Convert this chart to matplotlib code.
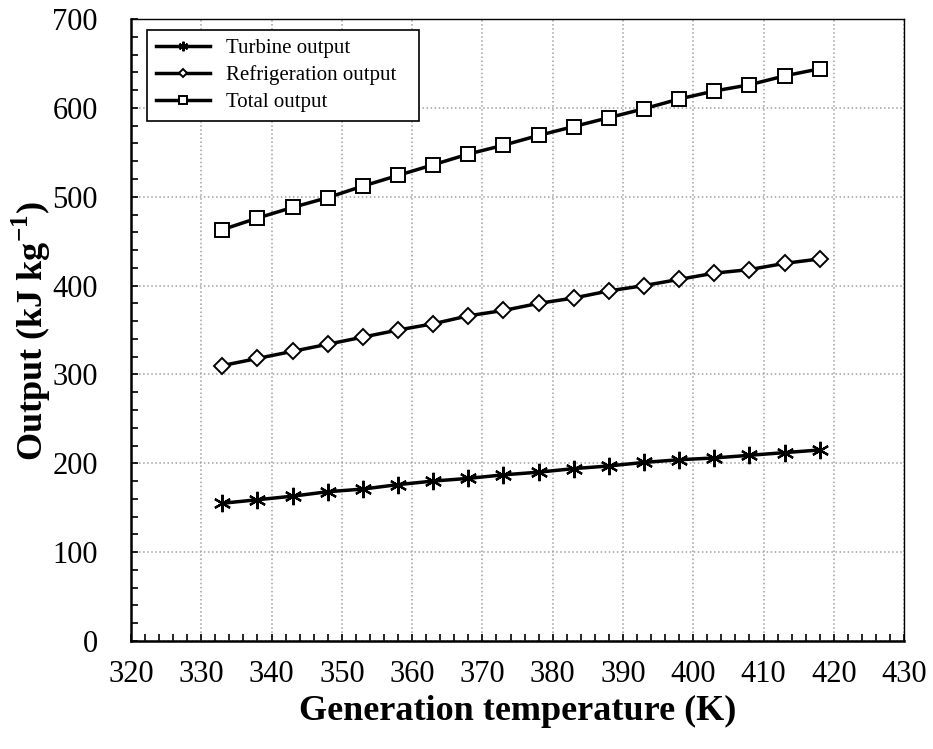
import matplotlib.pyplot as plt
from matplotlib.ticker import MultipleLocator

# generation temperature (K)
temps = [333, 338, 343, 348, 353, 358, 363, 368, 373,
         378, 383, 388, 393, 398, 403, 408, 413, 418]
# outputs (kJ/kg)
turbine = [155, 159, 163, 168, 171, 176, 180, 183, 187,
           190, 194, 197, 201, 204, 206, 209, 212, 215]
refrig = [310, 318, 326, 334, 342, 350, 357, 366, 372,
          380, 386, 394, 400, 407, 414, 418, 425, 430]
total = [463, 476, 488, 499, 512, 524, 536, 548, 558,
         569, 579, 589, 599, 610, 619, 626, 636, 644]

plt.rcParams['font.family'] = ['Liberation Serif', 'DejaVu Serif']
plt.rcParams['mathtext.fontset'] = 'custom'
plt.rcParams['mathtext.rm'] = 'Liberation Serif'
plt.rcParams['mathtext.bf'] = 'Liberation Serif:bold'


def main():
    fig = plt.figure(figsize=(9.33, 7.49), dpi=100)
    ax = fig.add_axes([0.1404, 0.1442, 0.8286, 0.8304])

    ax.plot(temps, turbine, color='black', lw=2.5, marker=(6, 2, 0),
            ms=12.5, mew=1.6, label='Turbine output')
    ax.plot(temps, refrig, color='black', lw=2.5, marker='D', ms=8,
            mfc='white', mew=1.4, label='Refrigeration output')
    ax.plot(temps, total, color='black', lw=2.5, marker='s', ms=10.5,
            mfc='white', mew=1.4, label='Total output')

    ax.set_xlim(320, 430)
    ax.set_ylim(0, 700)
    ax.xaxis.set_major_locator(MultipleLocator(10))
    ax.xaxis.set_minor_locator(MultipleLocator(2))
    ax.yaxis.set_major_locator(MultipleLocator(100))
    ax.yaxis.set_minor_locator(MultipleLocator(20))
    ax.tick_params(which='both', direction='in', length=5, width=1.2,
                   top=False, right=False, labelsize=22)
    ax.tick_params(axis='x', pad=14)
    ax.tick_params(axis='y', pad=24)
    ax.grid(True, which='major', linestyle=':', color='#a0a0a0', lw=1.1)

    for s in ['left', 'bottom']:
        ax.spines[s].set_linewidth(1.8)
    for s in ['top', 'right']:
        ax.spines[s].set_linewidth(1.0)

    fig.text(0.555, 0.05, 'Generation temperature (K)', fontsize=26,
             fontweight='bold', ha='center', va='center')
    fig.text(0.034, 0.558, r'Output (kJ kg$^{\mathbf{-1}}$)', fontsize=26,
             fontweight='bold', ha='center', va='center', rotation=90)

    leg = ax.legend(loc='upper left', bbox_to_anchor=(0.021, 0.982, 0.351, 0),
                    mode='expand', fontsize=15, markerscale=0.55,
                    handlelength=2.6, labelspacing=0.35, fancybox=False,
                    edgecolor='black', framealpha=1, borderaxespad=0.0)
    leg.get_frame().set_linewidth(1.2)

    plt.savefig('out.png', dpi=100)


main()
